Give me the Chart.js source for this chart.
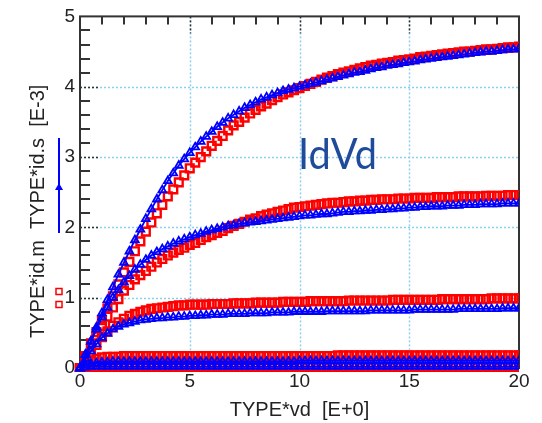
<!DOCTYPE html>
<html>
<head>
<meta charset="utf-8">
<script src="https://cdn.jsdelivr.net/npm/chart.js@4.4.0/dist/chart.umd.min.js"></script>
<style>
  html, body { margin: 0; padding: 0; background: #fff; }
</style>
</head>
<body>
<canvas id="idvd_chart" width="542" height="423"></canvas>
<script>
// drain bias sweep (V), 0.25 V step
const VD = [
  0, 0.25, 0.5, 0.75, 1, 1.25, 1.5, 1.75, 2, 2.25,
  2.5, 2.75, 3, 3.25, 3.5, 3.75, 4, 4.25, 4.5, 4.75,
  5, 5.25, 5.5, 5.75, 6, 6.25, 6.5, 6.75, 7, 7.25,
  7.5, 7.75, 8, 8.25, 8.5, 8.75, 9, 9.25, 9.5, 9.75,
  10, 10.25, 10.5, 10.75, 11, 11.25, 11.5, 11.75, 12, 12.25,
  12.5, 12.75, 13, 13.25, 13.5, 13.75, 14, 14.25, 14.5, 14.75,
  15, 15.25, 15.5, 15.75, 16, 16.25, 16.5, 16.75, 17, 17.25,
  17.5, 17.75, 18, 18.25, 18.5, 18.75, 19, 19.25, 19.5, 19.75,
  20
];

// simulated drain current, one array per gate step (mA)
const ID_SIM_1 = [
  0, 0.01, 0.02, 0.02, 0.02, 0.02, 0.02, 0.02, 0.02, 0.02,
  0.02, 0.02, 0.02, 0.02, 0.02, 0.02, 0.02, 0.02, 0.02, 0.02,
  0.02, 0.02, 0.02, 0.02, 0.02, 0.02, 0.02, 0.02, 0.02, 0.02,
  0.02, 0.02, 0.02, 0.02, 0.02, 0.02, 0.02, 0.02, 0.02, 0.02,
  0.02, 0.02, 0.02, 0.02, 0.02, 0.02, 0.02, 0.02, 0.02, 0.02,
  0.02, 0.02, 0.02, 0.02, 0.02, 0.02, 0.02, 0.02, 0.02, 0.02,
  0.02, 0.02, 0.02, 0.02, 0.02, 0.02, 0.02, 0.02, 0.02, 0.02,
  0.02, 0.02, 0.02, 0.02, 0.02, 0.02, 0.02, 0.02, 0.02, 0.02,
  0.02
];
const ID_SIM_2 = [
  0, 0.04, 0.06, 0.07, 0.08, 0.08, 0.09, 0.09, 0.09, 0.09,
  0.09, 0.09, 0.09, 0.09, 0.09, 0.09, 0.09, 0.09, 0.09, 0.09,
  0.09, 0.09, 0.09, 0.09, 0.09, 0.09, 0.09, 0.09, 0.09, 0.09,
  0.09, 0.09, 0.09, 0.09, 0.09, 0.09, 0.09, 0.09, 0.09, 0.09,
  0.10, 0.10, 0.10, 0.10, 0.10, 0.10, 0.10, 0.10, 0.10, 0.10,
  0.10, 0.10, 0.10, 0.10, 0.10, 0.10, 0.10, 0.10, 0.10, 0.10,
  0.10, 0.10, 0.10, 0.10, 0.10, 0.10, 0.10, 0.10, 0.10, 0.10,
  0.10, 0.10, 0.10, 0.10, 0.10, 0.10, 0.10, 0.10, 0.10, 0.10,
  0.10
];
const ID_SIM_3 = [
  0, 0.13, 0.24, 0.34, 0.43, 0.49, 0.55, 0.59, 0.62, 0.64,
  0.66, 0.68, 0.69, 0.70, 0.71, 0.71, 0.72, 0.72, 0.73, 0.73,
  0.74, 0.74, 0.75, 0.75, 0.76, 0.76, 0.76, 0.77, 0.77, 0.77,
  0.77, 0.78, 0.78, 0.78, 0.78, 0.79, 0.79, 0.79, 0.79, 0.80,
  0.80, 0.80, 0.80, 0.80, 0.80, 0.81, 0.81, 0.81, 0.81, 0.81,
  0.81, 0.81, 0.81, 0.82, 0.82, 0.82, 0.82, 0.82, 0.82, 0.82,
  0.82, 0.83, 0.83, 0.83, 0.83, 0.83, 0.83, 0.83, 0.83, 0.84,
  0.84, 0.84, 0.84, 0.84, 0.84, 0.84, 0.84, 0.85, 0.85, 0.85,
  0.85
];
const ID_SIM_4 = [
  0, 0.19, 0.38, 0.55, 0.72, 0.86, 1.00, 1.11, 1.22, 1.31,
  1.40, 1.47, 1.54, 1.60, 1.65, 1.69, 1.73, 1.77, 1.80, 1.83,
  1.86, 1.89, 1.91, 1.94, 1.96, 1.98, 2.00, 2.02, 2.03, 2.05,
  2.06, 2.07, 2.08, 2.09, 2.10, 2.11, 2.12, 2.13, 2.14, 2.15,
  2.16, 2.17, 2.17, 2.18, 2.19, 2.19, 2.20, 2.21, 2.22, 2.22,
  2.23, 2.23, 2.24, 2.24, 2.25, 2.25, 2.26, 2.26, 2.27, 2.27,
  2.28, 2.28, 2.29, 2.29, 2.30, 2.30, 2.30, 2.31, 2.31, 2.31,
  2.32, 2.32, 2.32, 2.33, 2.33, 2.33, 2.33, 2.34, 2.34, 2.34,
  2.34
];
const ID_SIM_5 = [
  0, 0.19, 0.38, 0.58, 0.78, 0.97, 1.15, 1.33, 1.50, 1.66,
  1.82, 1.97, 2.12, 2.26, 2.40, 2.53, 2.66, 2.77, 2.88, 2.97,
  3.06, 3.14, 3.22, 3.29, 3.36, 3.43, 3.49, 3.55, 3.60, 3.65,
  3.70, 3.74, 3.78, 3.82, 3.85, 3.88, 3.91, 3.94, 3.96, 3.98,
  4.00, 4.02, 4.04, 4.06, 4.08, 4.10, 4.12, 4.14, 4.16, 4.18,
  4.20, 4.21, 4.23, 4.25, 4.27, 4.28, 4.30, 4.31, 4.32, 4.34,
  4.35, 4.36, 4.38, 4.39, 4.40, 4.41, 4.42, 4.43, 4.44, 4.45,
  4.46, 4.47, 4.48, 4.49, 4.50, 4.50, 4.51, 4.52, 4.53, 4.53,
  4.54
];

// measured drain current (mA)
const ID_MEAS_1 = [
  0, 0.01, 0.01, 0.01, 0.01, 0.01, 0.01, 0.01, 0.01, 0.01,
  0.01, 0.01, 0.01, 0.01, 0.01, 0.01, 0.01, 0.01, 0.01, 0.01,
  0.01, 0.01, 0.01, 0.01, 0.01, 0.01, 0.01, 0.01, 0.01, 0.01,
  0.01, 0.01, 0.01, 0.01, 0.01, 0.01, 0.01, 0.01, 0.01, 0.01,
  0.01, 0.01, 0.01, 0.01, 0.01, 0.01, 0.01, 0.01, 0.01, 0.01,
  0.01, 0.01, 0.01, 0.01, 0.01, 0.01, 0.01, 0.01, 0.01, 0.01,
  0.01, 0.01, 0.01, 0.01, 0.01, 0.01, 0.01, 0.01, 0.01, 0.01,
  0.01, 0.01, 0.01, 0.01, 0.01, 0.01, 0.01, 0.01, 0.01, 0.01,
  0.01
];
const ID_MEAS_2 = [
  0, 0.06, 0.10, 0.13, 0.15, 0.16, 0.16, 0.16, 0.17, 0.17,
  0.17, 0.17, 0.17, 0.17, 0.17, 0.17, 0.17, 0.17, 0.17, 0.17,
  0.17, 0.17, 0.17, 0.17, 0.17, 0.17, 0.17, 0.17, 0.17, 0.17,
  0.17, 0.17, 0.17, 0.17, 0.17, 0.17, 0.17, 0.17, 0.17, 0.17,
  0.17, 0.17, 0.17, 0.17, 0.17, 0.17, 0.17, 0.18, 0.18, 0.18,
  0.18, 0.18, 0.18, 0.18, 0.18, 0.18, 0.18, 0.18, 0.18, 0.18,
  0.18, 0.18, 0.18, 0.18, 0.18, 0.18, 0.18, 0.18, 0.18, 0.18,
  0.18, 0.18, 0.18, 0.18, 0.18, 0.18, 0.18, 0.18, 0.18, 0.18,
  0.18
];
const ID_MEAS_3 = [
  0, 0.11, 0.22, 0.33, 0.44, 0.52, 0.60, 0.65, 0.70, 0.74,
  0.77, 0.80, 0.82, 0.84, 0.85, 0.86, 0.87, 0.88, 0.89, 0.89,
  0.90, 0.90, 0.90, 0.90, 0.91, 0.91, 0.91, 0.91, 0.92, 0.92,
  0.92, 0.92, 0.93, 0.93, 0.93, 0.93, 0.93, 0.94, 0.94, 0.94,
  0.94, 0.94, 0.95, 0.95, 0.95, 0.95, 0.95, 0.95, 0.95, 0.96,
  0.96, 0.96, 0.96, 0.96, 0.96, 0.96, 0.96, 0.97, 0.97, 0.97,
  0.97, 0.97, 0.97, 0.97, 0.97, 0.97, 0.98, 0.98, 0.98, 0.98,
  0.98, 0.98, 0.98, 0.98, 0.98, 0.99, 0.99, 0.99, 0.99, 0.99,
  0.99
];
const ID_MEAS_4 = [
  0, 0.15, 0.30, 0.45, 0.60, 0.73, 0.86, 0.98, 1.10, 1.18,
  1.26, 1.32, 1.38, 1.44, 1.50, 1.55, 1.60, 1.64, 1.68, 1.71,
  1.75, 1.78, 1.82, 1.86, 1.89, 1.92, 1.95, 1.99, 2.02, 2.05,
  2.08, 2.11, 2.13, 2.16, 2.18, 2.20, 2.22, 2.24, 2.26, 2.28,
  2.29, 2.30, 2.31, 2.32, 2.33, 2.34, 2.35, 2.35, 2.36, 2.37,
  2.37, 2.38, 2.38, 2.39, 2.39, 2.40, 2.40, 2.40, 2.41, 2.41,
  2.41, 2.42, 2.42, 2.42, 2.42, 2.43, 2.43, 2.43, 2.43, 2.44,
  2.44, 2.44, 2.44, 2.44, 2.45, 2.45, 2.45, 2.45, 2.46, 2.46,
  2.46
];
const ID_MEAS_5 = [
  0, 0.17, 0.35, 0.51, 0.68, 0.85, 1.02, 1.19, 1.36, 1.51,
  1.66, 1.80, 1.94, 2.07, 2.20, 2.32, 2.44, 2.54, 2.64, 2.74,
  2.84, 2.92, 3.00, 3.08, 3.16, 3.23, 3.30, 3.38, 3.45, 3.50,
  3.56, 3.62, 3.67, 3.72, 3.76, 3.81, 3.85, 3.89, 3.92, 3.95,
  3.98, 4.01, 4.04, 4.07, 4.10, 4.13, 4.15, 4.18, 4.20, 4.22,
  4.24, 4.26, 4.28, 4.30, 4.31, 4.33, 4.34, 4.35, 4.37, 4.38,
  4.39, 4.40, 4.42, 4.43, 4.44, 4.45, 4.46, 4.47, 4.48, 4.49,
  4.50, 4.50, 4.51, 4.52, 4.53, 4.53, 4.54, 4.55, 4.56, 4.56,
  4.57
];

const X_TICKS = [ 0, 5, 10, 15, 20 ];
const Y_TICKS = [ 0, 1, 2, 3, 4, 5 ];
const X_MINOR_STEP = 1;
const Y_MINOR_STEP = 0.2;

const X_TITLE = 'TYPE*vd  [E+0]';
const Y_TITLE = 'TYPE*id.m  TYPE*id.s  [E-3]';
const PLOT_LABEL = 'IdVd';

const SIM_COLOR = '#0000ff';
const MEAS_COLOR = '#ff0000';
const GRID_COLOR = '#8ccdf2';
const AXIS_COLOR = '#333333';
const TEXT_COLOR = '#222222';
const TEXT_FONT = '"Liberation Sans", Arial, sans-serif';

function to_points( ys ) {
  return VD.map( ( v, i ) => ( { x: v, y: ys[ i ] } ) );
}

function sim_dataset( ys ) {
  return {
    data: to_points( ys ),
    showLine: true,
    borderColor: SIM_COLOR,
    borderWidth: 1.8,
    pointStyle: 'triangle',
    pointRadius: 4.5,
    pointBorderWidth: 1.8,
    pointBorderColor: SIM_COLOR,
    pointBackgroundColor: 'rgba(0,0,0,0)',
    clip: { left: 6, top: 0, right: 0, bottom: 4 },
    order: 0
  };
}

function meas_dataset( ys ) {
  return {
    data: to_points( ys ),
    showLine: false,
    pointStyle: 'rect',
    pointRadius: 5.5,
    pointBorderWidth: 2.4,
    pointBorderColor: MEAS_COLOR,
    pointBackgroundColor: 'rgba(0,0,0,0)',
    clip: { left: 6, top: 0, right: 0, bottom: 4 },
    order: 1
  };
}

// grid, inside ticks and frame, drawn under the markers
const frame_plugin = {
  id: 'frame_plugin',
  beforeDatasetsDraw( chart ) {
    const ctx = chart.ctx;
    const area = chart.chartArea;
    const xs = chart.scales.x;
    const ys = chart.scales.y;
    ctx.save();

    ctx.lineWidth = 1.5;
    ctx.strokeStyle = GRID_COLOR;
    ctx.setLineDash( [ 2, 2 ] );
    X_TICKS.slice( 1, -1 ).forEach( v => {
      const px = Math.round( xs.getPixelForValue( v ) ) + 0.5;
      ctx.beginPath();
      ctx.moveTo( px, area.top );
      ctx.lineTo( px, area.bottom );
      ctx.stroke();
    } );
    Y_TICKS.slice( 1, -1 ).forEach( v => {
      const py = Math.round( ys.getPixelForValue( v ) ) + 0.5;
      ctx.beginPath();
      ctx.moveTo( area.left, py );
      ctx.lineTo( area.right, py );
      ctx.stroke();
    } );

    // dark dotted stubs on the major ticks
    ctx.strokeStyle = AXIS_COLOR;
    X_TICKS.slice( 1, -1 ).forEach( v => {
      const px = Math.round( xs.getPixelForValue( v ) ) + 0.5;
      ctx.beginPath();
      ctx.moveTo( px, area.top );
      ctx.lineTo( px, area.top + 17 );
      ctx.stroke();
    } );
    Y_TICKS.slice( 1, -1 ).forEach( v => {
      const py = Math.round( ys.getPixelForValue( v ) ) + 0.5;
      ctx.beginPath();
      ctx.moveTo( area.left, py );
      ctx.lineTo( area.left + 20, py );
      ctx.stroke();
    } );

    // minor ticks on top and left edges
    ctx.setLineDash( [] );
    ctx.lineWidth = 2;
    for ( let v = xs.min + X_MINOR_STEP; v < xs.max - 1e-6; v += X_MINOR_STEP ) {
      if ( Math.abs( v % 5 ) < 1e-6 ) continue;
      const px = Math.round( xs.getPixelForValue( v ) );
      ctx.beginPath();
      ctx.moveTo( px, area.top );
      ctx.lineTo( px, area.top + 8 );
      ctx.stroke();
    }
    for ( let v = ys.min + Y_MINOR_STEP; v < ys.max - 1e-6; v += Y_MINOR_STEP ) {
      if ( Math.abs( v - Math.round( v ) ) < 1e-6 ) continue;
      const py = Math.round( ys.getPixelForValue( v ) );
      ctx.beginPath();
      ctx.moveTo( area.left, py );
      ctx.lineTo( area.left + 10, py );
      ctx.stroke();
    }

    ctx.lineWidth = 2;
    ctx.strokeStyle = AXIS_COLOR;
    ctx.strokeRect( area.left, area.top, area.right - area.left, area.bottom - area.top );
    ctx.restore();
  },

  afterDraw( chart ) {
    const ctx = chart.ctx;
    const area = chart.chartArea;
    ctx.save();
    ctx.fillStyle = TEXT_COLOR;
    ctx.font = '20px ' + TEXT_FONT;

    // x axis title
    ctx.textAlign = 'center';
    ctx.textBaseline = 'alphabetic';
    ctx.fillText( X_TITLE, ( area.left + area.right ) / 2, 416 );

    // y axis title, rotated
    ctx.save();
    ctx.translate( 44, 338 );
    ctx.rotate( -Math.PI / 2 );
    ctx.textAlign = 'left';
    ctx.fillText( Y_TITLE, 0, 0 );
    ctx.restore();

    // legend keys beside the title
    ctx.strokeStyle = SIM_COLOR;
    ctx.fillStyle = SIM_COLOR;
    ctx.lineWidth = 2;
    ctx.beginPath();
    ctx.moveTo( 59, 138 );
    ctx.lineTo( 59, 233 );
    ctx.stroke();
    ctx.beginPath();
    ctx.moveTo( 59, 183 );
    ctx.lineTo( 63, 190 );
    ctx.lineTo( 55, 190 );
    ctx.closePath();
    ctx.fill();

    ctx.strokeStyle = MEAS_COLOR;
    ctx.lineWidth = 1.5;
    ctx.strokeRect( 56, 288.5, 6, 6 );
    ctx.strokeRect( 56, 301.5, 6, 6 );

    // curve family label
    ctx.fillStyle = '#1f4b9b';
    ctx.font = '42px Lato, "Open Sans", sans-serif';
    ctx.textAlign = 'left';
    const w = ctx.measureText( PLOT_LABEL ).width;
    ctx.translate( 298, 169 );
    ctx.scale( 79 / w, 1 );
    ctx.fillText( PLOT_LABEL, 0, 0 );
    ctx.restore();
  }
};

const tick_font = { family: TEXT_FONT, size: 19 };

new Chart( document.getElementById( 'idvd_chart' ), {
  type: 'scatter',
  data: {
    datasets: [
      sim_dataset( ID_SIM_5 ),
      sim_dataset( ID_SIM_4 ),
      sim_dataset( ID_SIM_3 ),
      sim_dataset( ID_SIM_2 ),
      sim_dataset( ID_SIM_1 ),
      meas_dataset( ID_MEAS_5 ),
      meas_dataset( ID_MEAS_4 ),
      meas_dataset( ID_MEAS_3 ),
      meas_dataset( ID_MEAS_2 ),
      meas_dataset( ID_MEAS_1 )
    ]
  },
  options: {
    responsive: false,
    animation: false,
    layout: { padding: { left: 0, top: 15, right: 23, bottom: 0 } },
    plugins: {
      legend: { display: false },
      tooltip: { enabled: false }
    },
    scales: {
      x: {
        type: 'linear',
        min: X_TICKS[ 0 ],
        max: X_TICKS[ X_TICKS.length - 1 ],
        afterBuildTicks: s => { s.ticks = X_TICKS.map( v => ( { value: v } ) ); },
        ticks: { font: tick_font, color: TEXT_COLOR, padding: 2, maxRotation: 0 },
        grid: { display: false, drawTicks: false },
        border: { display: false },
        afterFit: s => { s.height = 55; }
      },
      y: {
        type: 'linear',
        min: Y_TICKS[ 0 ],
        max: Y_TICKS[ Y_TICKS.length - 1 ],
        afterBuildTicks: s => { s.ticks = Y_TICKS.map( v => ( { value: v } ) ); },
        ticks: { font: tick_font, color: TEXT_COLOR, padding: 5 },
        grid: { display: false, drawTicks: false },
        border: { display: false },
        afterFit: s => { s.width = 80; }
      }
    }
  },
  plugins: [ frame_plugin ]
} );
</script>
</body>
</html>
